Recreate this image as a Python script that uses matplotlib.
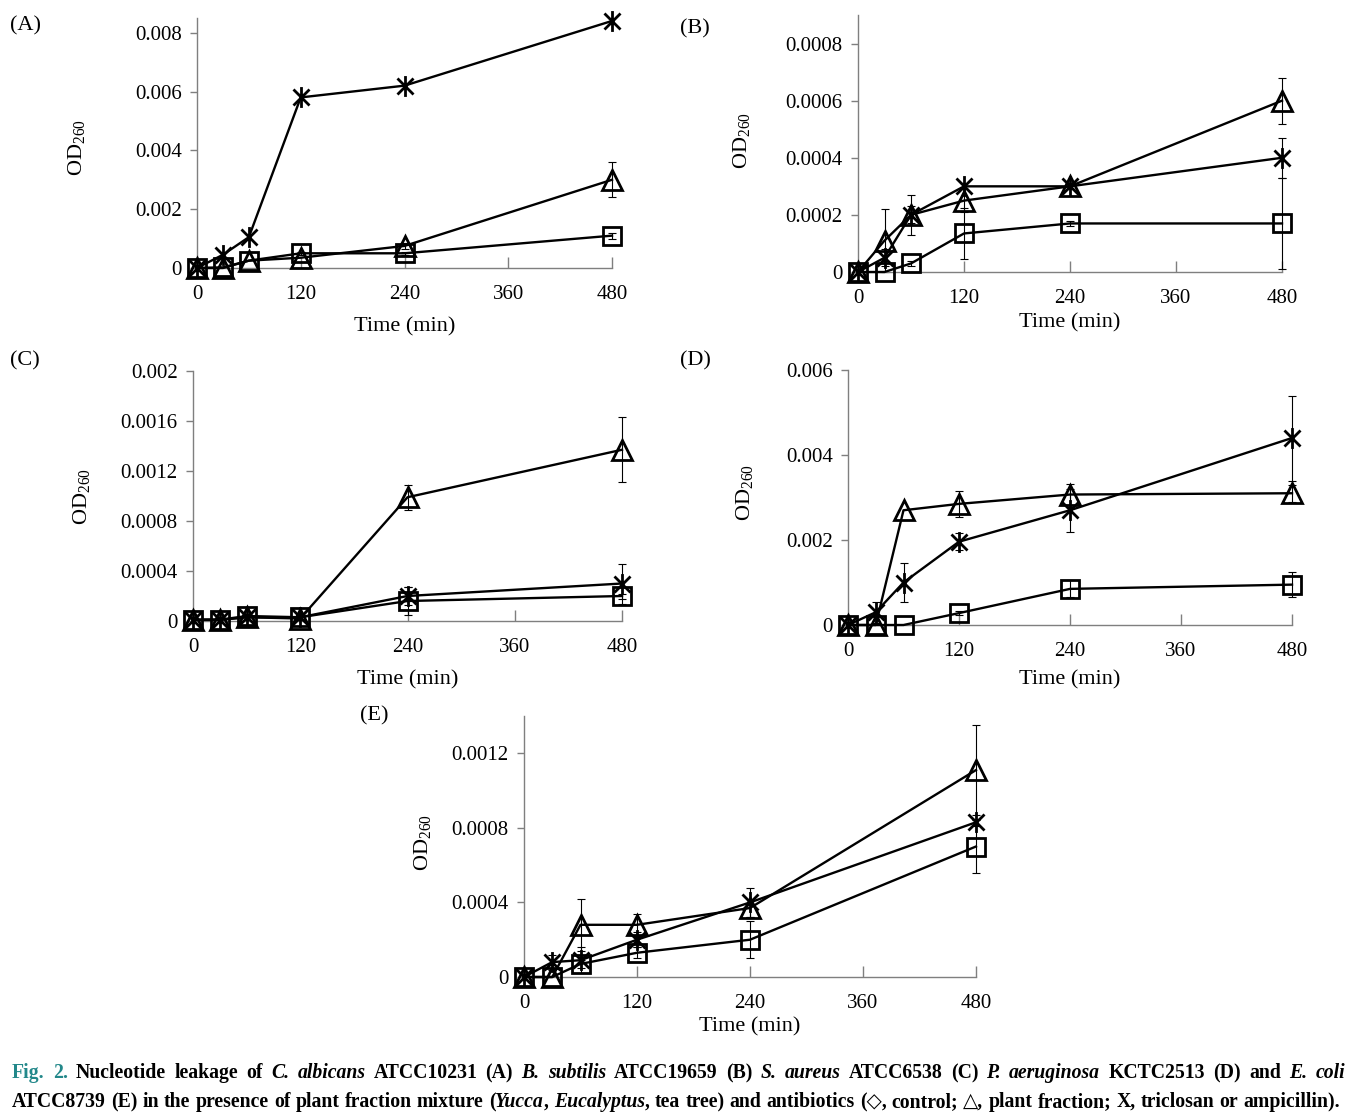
import re
import numpy as np
import matplotlib
matplotlib.use('Agg')
import matplotlib.pyplot as plt
from matplotlib.path import Path

plt.rcParams['font.family'] = ['Liberation Serif', 'DejaVu Serif']
plt.rcParams['mathtext.fontset'] = 'custom'
plt.rcParams['mathtext.rm'] = 'Liberation Serif'
plt.rcParams['mathtext.default'] = 'regular'

# 时间点 (min)
time = [0, 30, 60, 120, 240, 480]
xticks = [0, 120, 240, 360, 480]

# (A) C. albicans
A_ctrl = [0, 0.00002, 0.00025, 0.0005, 0.0005, 0.0011]
A_ctrl_err = [0, 0, 0, 0.00005, 0.00005, 0.0001]
A_plant = [0, 0, 0.00025, 0.00035, 0.00075, 0.003]
A_plant_err = [0, 0, 0, 0, 0.0001, 0.0006]
A_anti = [0, 0.00045, 0.00105, 0.0058, 0.0062, 0.0084]
A_anti_err = [0, 0, 0, 0.0001, 0, 0]
A_yticks = [0, 0.002, 0.004, 0.006, 0.008]
A_ylabels = ['0', '0.002', '0.004', '0.006', '0.008']

# (B) B. subtilis
B_ctrl = [0, 0, 0.00003, 0.000135, 0.00017, 0.00017]
B_ctrl_err = [0, 0, 0.00001, 0.00009, 0.00001, 0.00016]
B_plant = [0, 0.00011, 0.0002, 0.00025, 0.0003, 0.0006]
B_plant_err = [0, 0.00011, 0.00007, 0.00004, 0.00001, 0.00008]
B_anti = [0, 0.00005, 0.0002, 0.0003, 0.0003, 0.0004]
B_anti_err = [0, 0.00003, 0.00003, 0.00001, 0.00001, 0.00007]
B_yticks = [0, 0.0002, 0.0004, 0.0006, 0.0008]
B_ylabels = ['0', '0.0002', '0.0004', '0.0006', '0.0008']

# (C) S. aureus
C_ctrl = [0.00001, 0.00001, 0.00004, 0.00003, 0.00016, 0.0002]
C_ctrl_err = [0, 0, 0, 0, 0.00011, 0.00002]
C_plant = [0.00001, 0.00001, 0.00003, 0.00002, 0.00099, 0.00137]
C_plant_err = [0, 0, 0, 0, 0.0001, 0.00026]
C_anti = [0.00001, 0.00001, 0.00003, 0.00003, 0.0002, 0.0003]
C_anti_err = [0, 0, 0, 0, 0.00007, 0.00016]
C_yticks = [0, 0.0004, 0.0008, 0.0012, 0.0016, 0.002]
C_ylabels = ['0', '0.0004', '0.0008', '0.0012', '0.0016', '0.002']

# (D) P. aeruginosa
D_ctrl = [0, 0, 0, 0.00028, 0.00085, 0.00095]
D_ctrl_err = [0, 0, 0, 0.00005, 0.0002, 0.0003]
D_plant = [0, 0, 0.0027, 0.00285, 0.00307, 0.0031]
D_plant_err = [0, 0, 0, 0.0003, 0.00025, 0.0002]
D_anti = [0, 0.0003, 0.001, 0.00196, 0.0027, 0.0044]
D_anti_err = [0, 0.00025, 0.00045, 0.0002, 0.0005, 0.001]
D_yticks = [0, 0.002, 0.004, 0.006]
D_ylabels = ['0', '0.002', '0.004', '0.006']

# (E) E. coli
E_ctrl = [0, 0, 0.00007, 0.00013, 0.0002, 0.0007]
E_ctrl_err = [0, 0, 0.00002, 0.00003, 0.0001, 0.00014]
E_plant = [0, 0, 0.00028, 0.00028, 0.00037, 0.00111]
E_plant_err = [0, 0, 0.00014, 0.00006, 0.00005, 0.00024]
E_anti = [0, 0.00008, 0.00009, 0.0002, 0.0004, 0.00083]
E_anti_err = [0, 0.00004, 0.00007, 0.00004, 0.00008, 0.00002]
E_yticks = [0, 0.0004, 0.0008, 0.0012]
E_ylabels = ['0', '0.0004', '0.0008', '0.0012']

W, H = 1361, 1120
fig = plt.figure(figsize=(W / 100, H / 100), dpi=100)

# 星形标记: X 加一条竖线
star = Path([(-1, -1), (1, 1), (-1, 1), (1, -1), (0, -1.3), (0, 1.3)],
            [Path.MOVETO, Path.LINETO] * 3)


def draw_panel(rect, ymax, series, yticks, ylabels, tag, tag_xy, ylab_xy, xlab_y):
    ax = fig.add_axes(rect)
    for y, err, mk, ms in series:
        y = np.array(y)
        err = np.array(err)
        m = err > 0
        if m.any():
            ax.errorbar(np.array(time)[m], y[m], yerr=err[m], fmt='none', ecolor='black',
                        elinewidth=0.8, capsize=3, capthick=0.8, clip_on=False, zorder=2)
        ax.plot(time, y, color='black', lw=1.7, marker=mk, ms=ms, mfc='none', mec='black',
                mew=2.0, clip_on=False, zorder=3)
    ax.set_xlim(0, 480)
    ax.set_ylim(0, ymax)
    ax.set_xticks(xticks)
    ax.set_xticklabels([str(t) for t in xticks])
    ax.set_yticks(yticks)
    ax.set_yticklabels(ylabels)
    for s in ['top', 'right']:
        ax.spines[s].set_visible(False)
    for s in ['left', 'bottom']:
        ax.spines[s].set_color('#7f7f7f')
        ax.spines[s].set_linewidth(1.0)
    ax.tick_params(axis='x', direction='in', length=8, width=1.0, color='#7f7f7f',
                   pad=12, labelsize=15)
    ax.tick_params(axis='y', direction='out', length=5, width=1.0, color='#7f7f7f',
                   pad=6, labelsize=15)
    ax.set_xlabel('Time (min)', fontsize=16)
    ax.xaxis.set_label_coords(0.5, xlab_y)
    ax.set_ylabel('OD$_{260}$', fontsize=16)
    ax.yaxis.set_label_coords(*ylab_xy)
    fig.text(tag_xy[0] / W, 1 - tag_xy[1] / H, tag, fontsize=16, va='center', ha='left')
    return ax


def rect(x0, x1, y_top, y_bot):
    return [x0 / W, 1 - y_bot / H, (x1 - x0) / W, (y_bot - y_top) / H]


mk_sq, mk_tri, mk_star = 13, 14, 15

draw_panel(rect(197, 612, 18, 268), 0.0085,
           [(A_ctrl, A_ctrl_err, 's', mk_sq), (A_plant, A_plant_err, '^', mk_tri), (A_anti, A_anti_err, star, mk_star)],
           A_yticks, A_ylabels, '(A)', (10, 26), (-0.265, 0.48), -0.195)
draw_panel(rect(858, 1282, 15, 272), 0.0009,
           [(B_ctrl, B_ctrl_err, 's', mk_sq), (B_plant, B_plant_err, '^', mk_tri), (B_anti, B_anti_err, star, mk_star)],
           B_yticks, B_ylabels, '(B)', (680, 29), (-0.25, 0.51), -0.16)
draw_panel(rect(193, 622, 371, 621), 0.002,
           [(C_ctrl, C_ctrl_err, 's', mk_sq), (C_plant, C_plant_err, '^', mk_tri), (C_anti, C_anti_err, star, mk_star)],
           C_yticks, C_ylabels, '(C)', (10, 361), (-0.235, 0.496), -0.195)
draw_panel(rect(848, 1292, 370, 625), 0.006,
           [(D_ctrl, D_ctrl_err, 's', mk_sq), (D_plant, D_plant_err, '^', mk_tri), (D_anti, D_anti_err, star, mk_star)],
           D_yticks, D_ylabels, '(D)', (680, 361), (-0.209, 0.52), -0.177)
draw_panel(rect(524, 976, 716, 977), 0.0014,
           [(E_ctrl, E_ctrl_err, 's', mk_sq), (E_plant, E_plant_err, '^', mk_tri), (E_anti, E_anti_err, star, mk_star)],
           E_yticks, E_ylabels, '(E)', (360, 716), (-0.201, 0.517), -0.155)

# 图注 (两行, 混合样式)
teal = '#23888a'
cap1 = [('Fig. 2.', teal, 'normal'), (' Nucleotide leakage of ', 'black', 'normal'),
        ('C. albicans', 'black', 'italic'), (' ATCC10231 (A) ', 'black', 'normal'),
        ('B. subtilis', 'black', 'italic'), (' ATCC19659 (B) ', 'black', 'normal'),
        ('S. aureus', 'black', 'italic'), (' ATCC6538 (C) ', 'black', 'normal'),
        ('P. aeruginosa', 'black', 'italic'), (' KCTC2513 (D) and ', 'black', 'normal'),
        ('E. coli', 'black', 'italic')]
cap2 = [('ATCC8739 (E) in the presence of plant fraction mixture (', 'black', 'normal'),
        ('Yucca', 'black', 'italic'), (', ', 'black', 'normal'),
        ('Eucalyptus', 'black', 'italic'),
        (', tea tree) and antibiotics (\u25c7, control; \u25b3, plant fraction; X, triclosan or ampicillin).',
         'black', 'normal')]

renderer = fig.canvas.get_renderer()
cap_font = ['Liberation Serif', 'DejaVu Sans']


def text_width(txt, size, style):
    t = fig.text(0, 0, '|' + txt + '|', fontsize=size, fontweight='bold', style=style, family=cap_font)
    w = t.get_window_extent(renderer).width
    t.remove()
    t = fig.text(0, 0, '||', fontsize=size, fontweight='bold', style=style, family=cap_font)
    w -= t.get_window_extent(renderer).width
    t.remove()
    return w


base = 14
w2 = sum(text_width(p[0], base, p[2]) for p in cap2)
size = base * 1328 / w2


def draw_caption(parts, y_px, x_end):
    # 按词排布, 多余宽度平均分给空格 (两端对齐)
    tokens = []
    for txt, col, style in parts:
        for tok in re.split(r'( )', txt):
            if tok:
                tokens.append((tok, col, style))
    widths = [text_width(t[0], size, t[2]) for t in tokens]
    n_sp = sum(1 for t in tokens if t[0] == ' ')
    extra = max(0.0, (x_end - 12 - sum(widths)) / max(n_sp, 1))
    x = 12
    for (tok, col, style), w in zip(tokens, widths):
        if tok == ' ':
            x += w + extra
            continue
        fig.text(x / W, 1 - y_px / H, tok, fontsize=size, fontweight='bold', style=style,
                 color=col, family=cap_font, va='center', ha='left')
        x += w


draw_caption(cap1, 1073, 1345)
draw_caption(cap2, 1102, 1340)

fig.savefig('out.png', dpi=100)
